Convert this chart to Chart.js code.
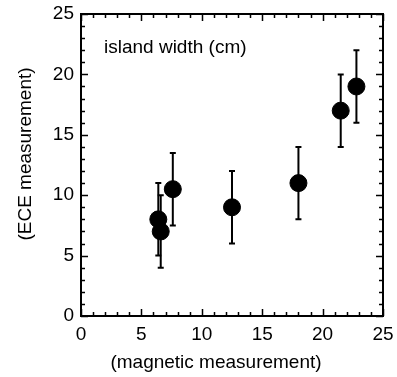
<!DOCTYPE html>
<html>
<head>
<meta charset="utf-8">
<script src="https://cdn.jsdelivr.net/npm/chart.js@4"></script>
<style>
  body { margin: 0; background: #fff; }
  #wrap { width: 397px; height: 377px; }
</style>
</head>
<body>
<div id="wrap"><canvas id="islandChart" width="397" height="377"></canvas></div>
<script>
// island width: magnetic vs ECE measurement (cm)
const magWidth = [6.4, 6.6, 7.6, 12.5, 18.0, 21.5, 22.8];
const eceWidth = [8, 7, 10.5, 9, 11, 17, 19];
const eceError = [3, 3, 3, 3, 3, 3, 3];
const axisTicks = [0, 5, 10, 15, 20, 25];

const FONT = '"Liberation Sans", Arial, Helvetica, sans-serif';

// vertical error bars with small caps, drawn under the markers
const errorBars = {
  id: 'errorBars',
  beforeDatasetsDraw(chart) {
    const { ctx, scales: { x, y } } = chart;
    ctx.save();
    ctx.strokeStyle = '#000';
    ctx.lineWidth = 2;
    magWidth.forEach((xv, i) => {
      const px = x.getPixelForValue(xv);
      const top = y.getPixelForValue(eceWidth[i] + eceError[i]);
      const bot = y.getPixelForValue(eceWidth[i] - eceError[i]);
      ctx.beginPath();
      ctx.moveTo(px, top); ctx.lineTo(px, bot);
      ctx.moveTo(px - 3, top); ctx.lineTo(px + 3, top);
      ctx.moveTo(px - 3, bot); ctx.lineTo(px + 3, bot);
      ctx.stroke();
    });
    ctx.restore();
  }
};

// box frame, inward ticks on all four sides, titles and label
const frame = {
  id: 'frame',
  afterDraw(chart) {
    const { ctx, chartArea: a, scales: { x, y } } = chart;
    ctx.save();
    ctx.strokeStyle = '#000';
    ctx.lineWidth = 2;
    ctx.strokeRect(a.left, a.top, a.right - a.left, a.bottom - a.top);

    ctx.lineWidth = 1.5;
    ctx.beginPath();
    for (let v = 0; v <= 25; v++) {
      const len = v % 5 === 0 ? 7 : 4;
      const px = Math.round(x.getPixelForValue(v)) + 0.5;
      ctx.moveTo(px, a.bottom); ctx.lineTo(px, a.bottom - len);
      ctx.moveTo(px, a.top); ctx.lineTo(px, a.top + len);
      const py = Math.round(y.getPixelForValue(v)) + 0.5;
      ctx.moveTo(a.left, py); ctx.lineTo(a.left + len, py);
      ctx.moveTo(a.right, py); ctx.lineTo(a.right - len, py);
    }
    ctx.stroke();

    ctx.fillStyle = '#000';
    ctx.font = '19px ' + FONT;
    ctx.textAlign = 'left';
    ctx.textBaseline = 'alphabetic';
    ctx.fillText('island width (cm)', a.left + 23, a.top + 39);

    ctx.textAlign = 'center';
    ctx.textBaseline = 'middle';
    ctx.fillText('(magnetic measurement)', 216, 363);
    ctx.translate(26, 154);
    ctx.rotate(-Math.PI / 2);
    ctx.fillText('(ECE measurement)', 0, 0);
    ctx.restore();
  }
};

// fixed axis sizes, no extra room for overhanging tick labels
function fixX(scale) {
  scale.height = 61;
  scale.paddingLeft = 0; scale.paddingRight = 0;
}
function fixY(scale) {
  scale.width = 81;
  scale.paddingTop = 0; scale.paddingBottom = 0;
}

new Chart(document.getElementById('islandChart'), {
  type: 'scatter',
  data: {
    datasets: [{
      data: magWidth.map((v, i) => ({ x: v, y: eceWidth[i] })),
      backgroundColor: '#000',
      borderColor: '#000',
      pointRadius: 8.5,
      pointHoverRadius: 8.5
    }]
  },
  options: {
    responsive: false,
    devicePixelRatio: 1,
    animation: false,
    layout: { padding: { left: 0, top: 14, right: 14, bottom: 0 } },
    plugins: { legend: { display: false }, tooltip: { enabled: false } },
    scales: {
      x: {
        type: 'linear',
        min: 0, max: 25,
        grid: { display: false, drawTicks: false },
        border: { display: false },
        afterBuildTicks(scale) { scale.ticks = axisTicks.map(v => ({ value: v })); },
        afterFit: fixX,
        ticks: { color: '#000', padding: 7, maxRotation: 0, font: { family: FONT, size: 19 } }
      },
      y: {
        type: 'linear',
        min: 0, max: 25,
        grid: { display: false, drawTicks: false },
        border: { display: false },
        afterBuildTicks(scale) { scale.ticks = axisTicks.map(v => ({ value: v })); },
        afterFit: fixY,
        ticks: { color: '#000', padding: 7, font: { family: FONT, size: 19 } }
      }
    }
  },
  plugins: [errorBars, frame]
});
</script>
</body>
</html>
